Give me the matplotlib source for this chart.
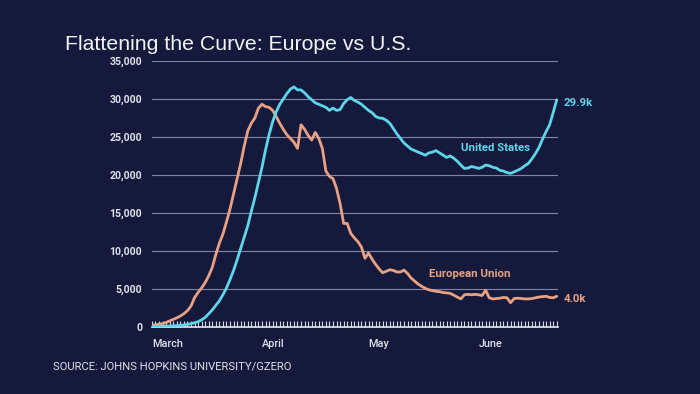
import matplotlib
matplotlib.use("Agg")
import matplotlib.pyplot as plt
import matplotlib.dates as mdates
import matplotlib.ticker as mticker
import pandas as pd

# ---- data (7-day average new cases) ----
start_date = "2020-03-01"
us_cases = [30, 30, 40, 50, 60, 80, 100, 130, 170, 220,
            300, 400, 500, 650, 900, 1200, 1700, 2200, 2800, 3400,
            4200, 5100, 6200, 7400, 8800, 10300, 11800, 13300, 15200, 17000,
            19000, 21000, 23300, 25300, 27000, 28300, 29300, 30000, 30700, 31300,
            31600, 31200, 31200, 30800, 30300, 29900, 29500, 29300, 29100, 28900,
            28500, 28800, 28500, 28600, 29400, 29900, 30200, 29800, 29600, 29300,
            28900, 28500, 28200, 27700, 27500, 27450, 27200, 26800, 26100, 25400,
            24800, 24200, 23800, 23400, 23200, 23000, 22800, 22600, 22900, 23000,
            23200, 22900, 22600, 22300, 22500, 22200, 21800, 21300, 20850, 20900,
            21100, 21000, 20850, 21000, 21300, 21200, 21000, 20900, 20600, 20500,
            20300, 20200, 20400, 20600, 20850, 21200, 21500, 22100, 22800, 23600,
            24700, 25700, 26600, 28200, 29900]
eu_cases = [200, 250, 320, 400, 550, 750, 950, 1150, 1400, 1700,
            2100, 2700, 3800, 4500, 5100, 5800, 6700, 7800, 9500, 11000,
            12200, 13800, 15500, 17500, 19500, 21500, 23800, 25800, 26800, 27500,
            28800, 29300, 29000, 28900, 28500, 27700, 26800, 26000, 25300, 24800,
            24300, 23500, 26600, 26000, 25200, 24600, 25600, 24800, 23500, 20500,
            19800, 19500, 18200, 16200, 13600, 13600, 12300, 11700, 11200, 10500,
            9000, 9700, 8900, 8200, 7600, 7100, 7300, 7500, 7400, 7200,
            7200, 7450, 7000, 6400, 6000, 5600, 5300, 5050, 4850, 4750,
            4650, 4600, 4500, 4450, 4380, 4150, 3900, 3650, 4200, 4250,
            4200, 4250, 4200, 4100, 4800, 3800, 3650, 3700, 3750, 3850,
            3800, 3150, 3700, 3750, 3700, 3650, 3650, 3700, 3800, 3900,
            3950, 4000, 3850, 3800, 4000]
us_name = "United States"
eu_name = "European Union"
us_end_label = "29.9k"
eu_end_label = "4.0k"
y_ticks = [0, 5000, 10000, 15000, 20000, 25000, 30000, 35000]
title = "Flattening the Curve: Europe vs U.S."
source = "SOURCE: JOHNS HOPKINS UNIVERSITY/GZERO"

dates = pd.date_range(start_date, periods=len(us_cases))

# ---- style ----
BG = "#151a3c"
US_C = "#5dd6ea"
EU_C = "#e8a283"
TXT = "#dfe0ea"
GRID = "#8d91b3"

fig = plt.figure(figsize=(7.0, 3.94), dpi=100)
fig.patch.set_facecolor(BG)
ax = fig.add_axes([0.217, 0.171, 0.580, 0.674])
ax.set_facecolor(BG)

ax.plot(dates, eu_cases, color=EU_C, lw=2.0, solid_capstyle="round", zorder=3)
ax.plot(dates, us_cases, color=US_C, lw=2.0, solid_capstyle="round", zorder=4)

ax.set_ylim(0, 35000)
ax.set_xlim(dates[0], dates[-1] + pd.Timedelta(hours=8))
ax.set_yticks(y_ticks)
ax.yaxis.set_major_formatter(mticker.FuncFormatter(lambda v, p: f"{int(v):,}"))
ax.grid(axis="y", color=GRID, lw=0.8, alpha=0.9)
ax.set_axisbelow(True)
for s in ["top", "right", "left"]:
    ax.spines[s].set_visible(False)
ax.spines["bottom"].set_color("#e6e7f0")
ax.spines["bottom"].set_linewidth(1.2)

ax.tick_params(axis="y", length=0, pad=7, labelsize=7.6, labelcolor=TXT)
for lab in ax.get_yticklabels():
    lab.set_fontfamily("Roboto")
    lab.set_fontweight("bold")

ax.xaxis.set_major_locator(mdates.MonthLocator())
ax.xaxis.set_major_formatter(mdates.DateFormatter("%B"))
ax.xaxis.set_minor_locator(mdates.DayLocator())
ax.xaxis.remove_overlapping_locs = False
ax.tick_params(axis="x", which="major", length=0, pad=9, labelsize=7.8, labelcolor=TXT)
ax.tick_params(axis="x", which="minor", direction="in", length=4.5, width=0.8, color="#d4d6e4")
for lab in ax.get_xticklabels():
    lab.set_fontfamily("Roboto")
    lab.set_fontweight("medium")
    lab.set_horizontalalignment("left")

# end labels
last = dates[-1]
ax.annotate(us_end_label, (last, us_cases[-1]), xytext=(5, -2), textcoords="offset points",
            color=US_C, fontsize=8.2, fontweight="bold", family="Roboto", va="center", ha="left",
            annotation_clip=False)
ax.annotate(eu_end_label, (last, eu_cases[-1]), xytext=(5, -2), textcoords="offset points",
            color=EU_C, fontsize=8.2, fontweight="bold", family="Roboto", va="center", ha="left",
            annotation_clip=False)

# series labels
ax.text(dates[87], 23500, us_name, color=US_C, fontsize=8.2, fontweight="bold",
        family="Roboto", va="center", ha="left")
ax.text(dates[78], 6900, eu_name, color=EU_C, fontsize=8.2, fontweight="bold",
        family="Roboto", va="center", ha="left")

fig.text(65 / 700, 1 - 45 / 394, title, color="#f4f4f8", fontsize=15.3,
         family="Liberation Sans", va="center", ha="left")
fig.text(53 / 700, 1 - 367 / 394, source, color=TXT, fontsize=8.1,
         family="Roboto", va="center", ha="left")

fig.savefig("out.png", dpi=100, facecolor=BG)
